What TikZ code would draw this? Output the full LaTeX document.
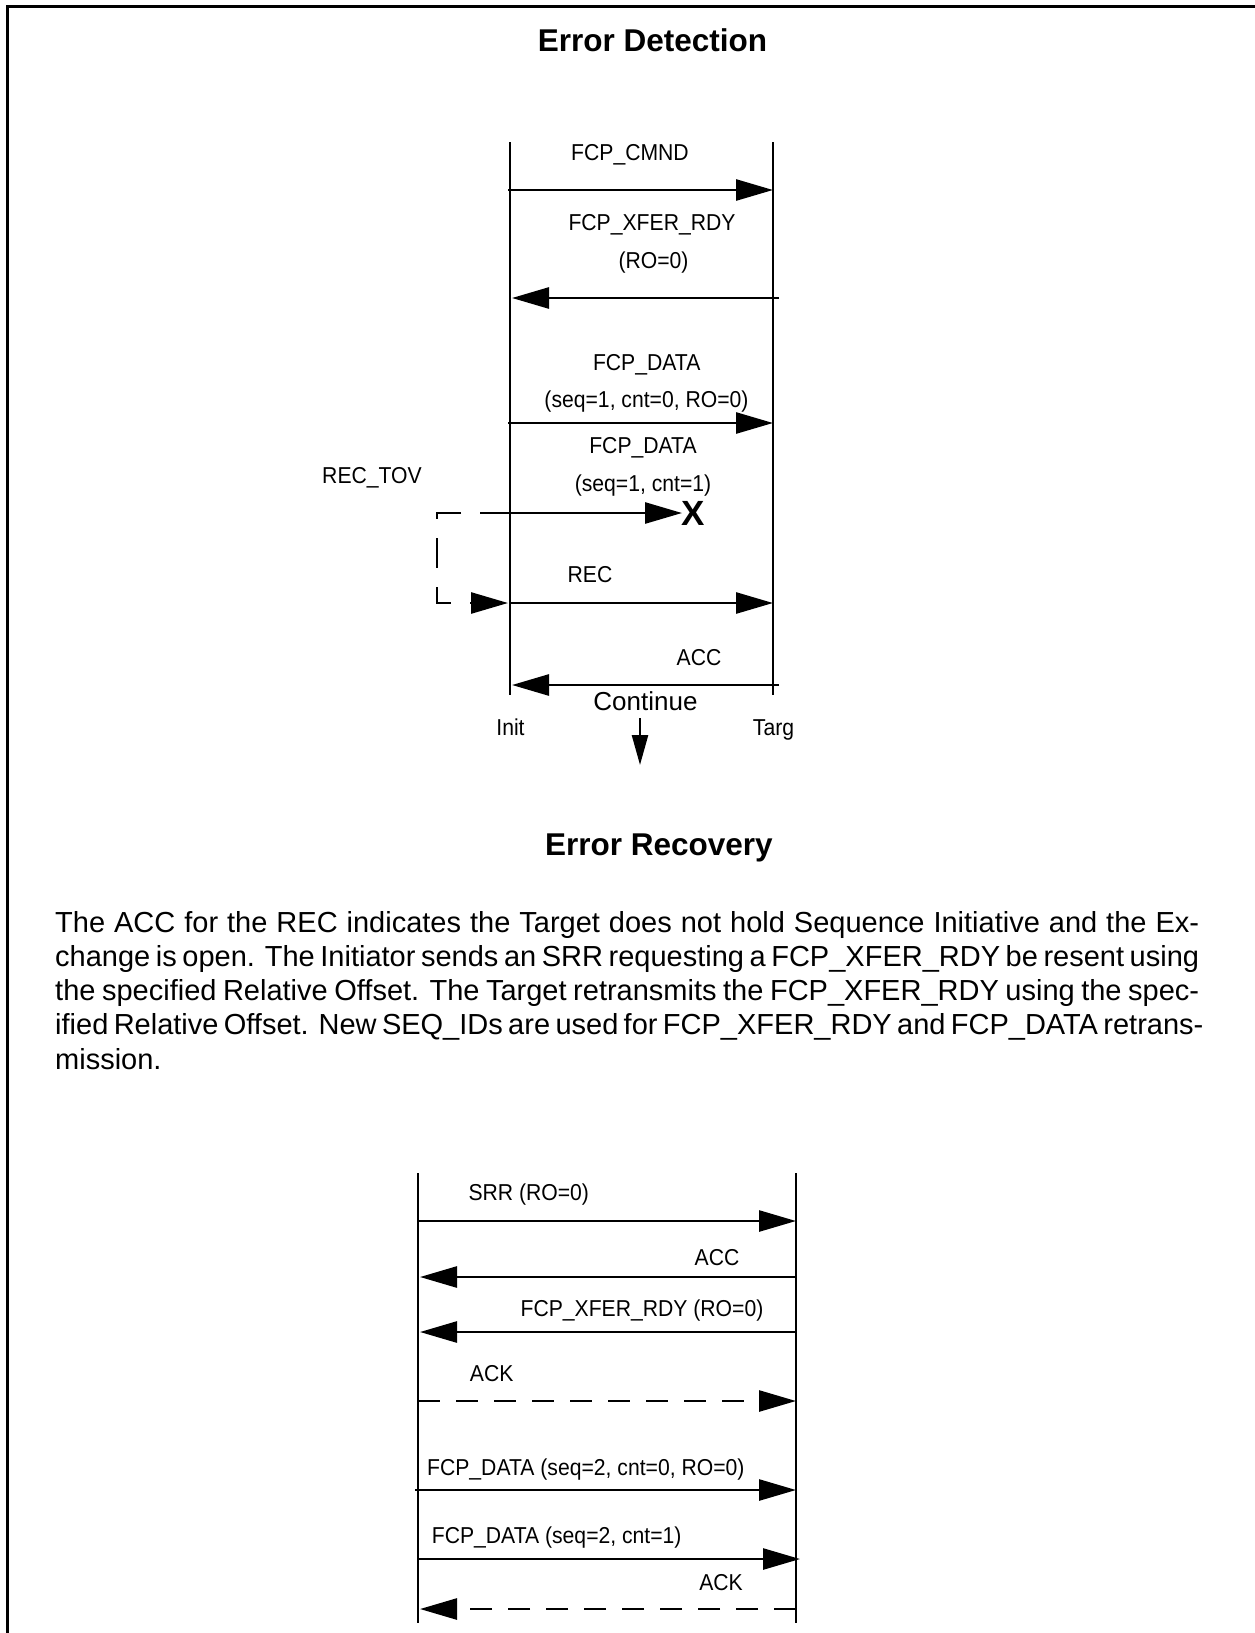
\documentclass[tikz,border=0pt]{standalone}
\usepackage{fontspec}
\setmainfont{Liberation Sans}
\newfontfamily\lblfont[FakeStretch=0.92]{Liberation Sans}
\usetikzlibrary{arrows.meta}
\newcommand{\lblsize}{\lblfont\fontsize{23}{27}\selectfont}
\newcommand{\parasize}{\fontsize{29}{34.3}\selectfont}
\begin{document}
\begin{tikzpicture}[x=1pt,y=-1pt,
  life/.style={line width=2.7pt},
  msg/.style={line width=2.7pt,-{Triangle[length=37pt,width=21pt]}},
  dmsg/.style={msg,dash pattern=on 22pt off 16pt},
  lbl/.style={anchor=base,inner sep=0pt,font=\lblsize},
  ttl/.style={anchor=base,inner sep=0pt,font=\bfseries\fontsize{31.5}{36}\selectfont},
]
\useasboundingbox (0,0) rectangle (1255,1633);
% frame
\draw[line width=3pt] (7.5,1633) -- (7.5,6.5) -- (1255,6.5);

% titles
\node[ttl] (t1) at (652.5,51.7) {Error Detection};
\node[ttl] (t2) at (659,855) {Error Recovery};

% ---------- top diagram ----------
\coordinate (Itop) at (510,142); \coordinate (Ibot) at (510,695);
\coordinate (Ttop) at (773,142); \coordinate (Tbot) at (773,695);
\draw[life] (Itop) -- (Ibot);
\draw[life] (Ttop) -- (Tbot);

\coordinate (a1s) at (508,190); \coordinate (a1e) at (773,190);
\coordinate (a2s) at (779,298); \coordinate (a2e) at (512,298);
\coordinate (a3s) at (508,423); \coordinate (a3e) at (773,423);
\coordinate (a4s) at (510,513); \coordinate (a4e) at (682,513);
\coordinate (tv1) at (437,513); \coordinate (tv2) at (437,603);
\coordinate (tv3) at (508,603);
\coordinate (a5s) at (510,603); \coordinate (a5e) at (773,603);
\coordinate (a6s) at (779,685); \coordinate (a6e) at (512,685);
\coordinate (cs) at (640,718); \coordinate (ce) at (640,765);

\draw[msg] (a1s) -- (a1e);
\draw[msg] (a2s) -- (a2e);
\draw[msg] (a3s) -- (a3e);
\draw[msg] (a4s) -- (a4e);
\draw[msg,dash pattern=on 30pt off 19pt] (a4s) -- (tv1) -- (tv2) -- (tv3);
\draw[msg] (a5s) -- (a5e);
\draw[msg] (a6s) -- (a6e);
\draw[line width=2.5pt,-{Triangle[length=30pt,width=16pt]}] (cs) -- (ce);

\node[lbl] (l1) at (630,160) {FCP\_CMND};
\node[lbl] (l2) at (652,230) {FCP\_XFER\_RDY};
\node[lbl] (l3) at (653.5,268.3) {(RO=0)};
\node[lbl] (l4) at (646.7,370.7) {FCP\_DATA};
\node[lbl] (l5) at (646.5,407.3) {(seq=1, cnt=0, RO=0)};
\node[lbl] (l6) at (643,453.3) {FCP\_DATA};
\node[lbl] (l7) at (643,491.7) {(seq=1, cnt=1)};
\node[lbl] (l8) at (372,483.3) {REC\_TOV};
\node[inner sep=0pt,font=\bfseries\fontsize{35}{40}\selectfont] (lx) at (693,513) {X};
\node[lbl] (l9) at (590,582.3) {REC};
\node[lbl] (l10) at (699,665.7) {ACC};
\node[anchor=base,inner sep=0pt,font=\fontsize{26}{30}\selectfont] (l11) at (645.5,710) {Continue};
\node[lbl] (l12) at (510.5,735.7) {Init};
\node[lbl] (l13) at (773.5,735.7) {Targ};

% ---------- paragraph ----------
\node[anchor=base west,inner sep=0pt,font=\parasize] (para) at (55,932) {\parbox[t]{1144pt}{\baselineskip=34.3pt
\hbox to 1144pt{The ACC for the REC indicates the Target does not hold Sequence Initiative and the Ex-}
\hbox to 1144pt{change is open. The Initiator sends an SRR requesting a FCP\_XFER\_RDY be resent using}
\hbox to 1144pt{the specified Relative Offset. The Target retransmits the FCP\_XFER\_RDY using the spec-}
\hbox to 1144pt{ified Relative Offset. New SEQ\_IDs are used for FCP\_XFER\_RDY and FCP\_DATA retrans-}
\hbox{mission.}}};

% ---------- bottom diagram ----------
\coordinate (BLtop) at (418,1173); \coordinate (BLbot) at (418,1623);
\coordinate (BRtop) at (796,1173); \coordinate (BRbot) at (796,1623);
\draw[life] (BLtop) -- (BLbot);
\draw[life] (BRtop) -- (BRbot);

\coordinate (b1s) at (418,1221); \coordinate (b1e) at (796,1221);
\coordinate (b2s) at (796,1277); \coordinate (b2e) at (420,1277);
\coordinate (b3s) at (796,1332); \coordinate (b3e) at (420,1332);
\coordinate (b4s) at (418,1401); \coordinate (b4e) at (796,1401);
\coordinate (b5s) at (415,1490); \coordinate (b5e) at (796,1490);
\coordinate (b6s) at (418,1559); \coordinate (b6e) at (800,1559);
\coordinate (b7s) at (796,1609); \coordinate (b7e) at (420,1609);

\draw[msg] (b1s) -- (b1e);
\draw[msg] (b2s) -- (b2e);
\draw[msg] (b3s) -- (b3e);
\draw[dmsg] (b4s) -- (b4e);
\draw[msg] (b5s) -- (b5e);
\draw[msg] (b6s) -- (b6e);
\draw[dmsg] (b7s) -- (b7e);

\node[lbl] (m1) at (528.8,1200) {SRR (RO=0)};
\node[lbl] (m2) at (717,1265) {ACC};
\node[lbl] (m3) at (642,1316.7) {FCP\_XFER\_RDY (RO=0)};
\node[lbl] (m4) at (491.7,1381.7) {ACK};
\node[lbl] (m5) at (585.8,1475) {FCP\_DATA (seq=2, cnt=0, RO=0)};
\node[lbl] (m6) at (556.7,1543.3) {FCP\_DATA (seq=2, cnt=1)};
\node[lbl] (m7) at (721,1590) {ACK};
\end{tikzpicture}
\end{document}
